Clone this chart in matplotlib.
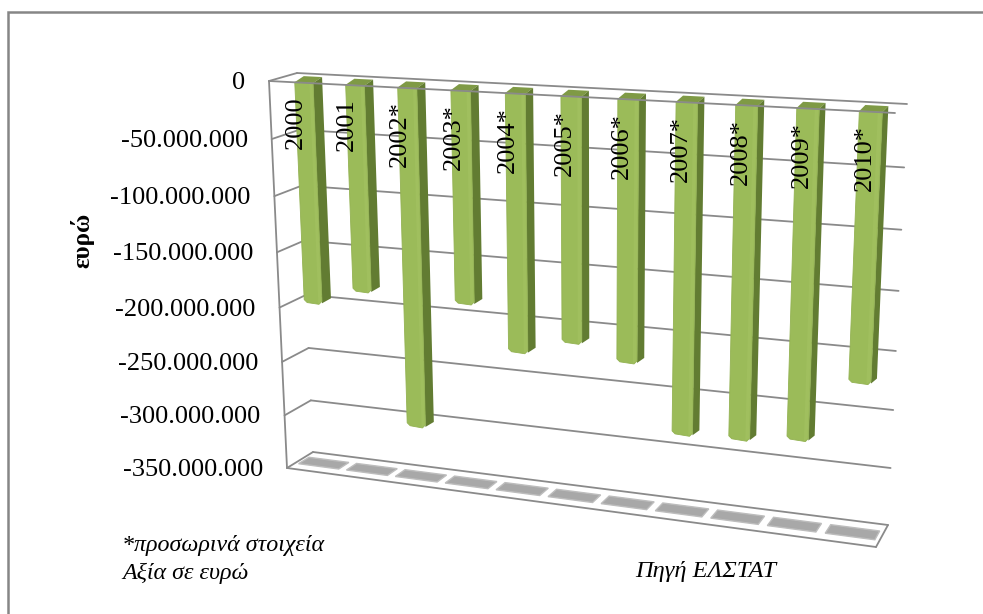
import numpy as np
import matplotlib
matplotlib.use("Agg")
import matplotlib.pyplot as plt
from matplotlib.patches import Polygon

# Trade balance by year, euro
years = ["2000", "2001", "2002*", "2003*", "2004*", "2005*", "2006*", "2007*", "2008*", "2009*", "2010*"]
balance = [-193.5e6, -179e6, -296e6, -181e6, -219e6, -206e6, -218e6, -275e6, -273.5e6, -268e6, -215e6]
ticks = [0, -50e6, -100e6, -150e6, -200e6, -250e6, -300e6, -350e6]
tick_labels = ["0", "-50.000.000", "-100.000.000", "-150.000.000", "-200.000.000",
               "-250.000.000", "-300.000.000", "-350.000.000"]

W, H = 983, 614
SERIF = "Liberation Serif"
GRID = "#8a8a8a"
VMIN = -350e6
# Corner pixels of the chart box: (left-top, right-top, left-bottom, right-bottom)
FRONT = [(269, 81), (895, 113), (287, 468), (876, 547)]
BACK = [(297, 73), (907, 104), (313, 452), (888, 525)]


def homography(corners):
    src = [(0, 0), (1, 0), (0, 1), (1, 1)]
    rows, rhs = [], []
    for (u, v), (x, y) in zip(src, corners):
        rows.append([u, v, 1, 0, 0, 0, -u * x, -v * x]); rhs.append(x)
        rows.append([0, 0, 0, u, v, 1, -u * y, -v * y]); rhs.append(y)
    return np.append(np.linalg.solve(np.array(rows, float), np.array(rhs, float)), 1).reshape(3, 3)


H_FRONT, H_BACK = homography(FRONT), homography(BACK)


def project(cat, value, depth=0.0):
    """Map a category position (0..n), a value and a box depth (0 front, 1 back) to pixels."""
    u = np.asarray(cat, float) / len(years)
    v = np.asarray(value, float) / VMIN
    p = np.stack([u, v, np.ones_like(u * v)])
    pts = []
    for M in (H_FRONT, H_BACK):
        q = np.tensordot(M, p, axes=1)
        pts.append(q[:2] / q[2])
    return (1 - depth) * pts[0] + depth * pts[1]


fig = plt.figure(figsize=(W / 100, H / 100), dpi=100)
ax = fig.add_axes([0, 0, 1, 1])
ax.set_xlim(0, W)
ax.set_ylim(H, 0)
ax.axis("off")

# Chart frame: only its top and left edges fall inside the canvas
ax.plot([8, 8, W], [H, 12, 12], color="#868686", lw=1.8, solid_joinstyle="miter", zorder=1)

n = len(years)


def line(p, q, z=2):
    ax.plot([p[0], q[0]], [p[1], q[1]], color=GRID, lw=1.3, solid_capstyle="round", zorder=z)


def bar_left(i):
    return i + 0.50 - 0.006 * i


# Back wall gridlines and the matching segments on the side wall
for tick in ticks:
    line(project(0, tick, 1), project(n, tick, 1))
    line(project(0, tick, 0), project(0, tick, 1))
line(project(0, 0, 0), project(0, VMIN, 0))

# Floor outline
for a, b in [((0, 0), (n, 0)), ((n, 0), (n, 1))]:
    line(project(a[0], VMIN, a[1]), project(b[0], VMIN, b[1]))

# Bar shadows lying on the floor
for i in range(n):
    c0, c1 = i + 0.08, i + 0.92
    quad = [project(c0, VMIN, 0.3), project(c1, VMIN, 0.3), project(c1, VMIN, 0.7), project(c0, VMIN, 0.7)]
    ax.add_patch(Polygon(quad, closed=True, fc="#a8a8a8", ec="#bdbdbd", lw=1, zorder=2))

# Bars
for i, val in enumerate(balance):
    c0 = bar_left(i)
    c1 = c0 + 0.36
    tl, tr = project(c0, 0, 0.02), project(c1, 0, 0.02)
    bl, br = project(c0, val, 0.02), project(c1, val, 0.02)
    off = np.array([9 - 3 * i / (n - 1), -6.0])
    r = 3.0
    ax.add_patch(Polygon([tl, tl + off, tr + off, tr], closed=True, fc="#7f9a45", ec="none", zorder=3))
    side = [tr, tr + off, br + off, br + (0, -1)]
    ax.add_patch(Polygon(side, closed=True, fc="#627c32", ec="none", zorder=3))
    face = [tl, tr, br + (0, -r), br + (-r, 0), bl + (r, 0), bl + (0, -r)]
    ax.add_patch(Polygon(face, closed=True, fc="#9bbb59", ec="#93b252", lw=0.6, zorder=4))
    # Lighter strip along the right edge of the front face
    w = tr - tl
    strip = [tr - 0.2 * w, tr - 0.03 * w, br - 0.03 * w + (0, -r), br - 0.2 * w]
    ax.add_patch(Polygon(strip, closed=True, fc="#a0bf5e", ec="none", zorder=4))

# Front top edge passes over the bars
line(project(0, 0, 0), project(n, 0, 0), z=5)

# Value axis labels
for tick, label in zip(ticks, tick_labels):
    x, y = project(0, tick, 0)
    ax.text(x - 24, y + 2, label, ha="right", va="center", family=SERIF, fontsize=19, color="black", zorder=6)

# Year labels, running upward across the bars
for i, label in enumerate(years):
    x, y = project(bar_left(i), 0, 0.02)
    ax.text(x + 1 + 0.5 * i, y + 14, label, rotation=90, ha="center", va="top", family=SERIF,
            fontsize=19, color="black", zorder=6)

ax.text(82, 240, "ευρώ", rotation=90, ha="center", va="center", family=SERIF, fontweight="bold",
        fontsize=18, color="black", zorder=6)
ax.text(122, 545, "*προσωρινά στοιχεία", ha="left", va="center", family=SERIF, style="italic",
        fontsize=17.3, color="black", zorder=6)
ax.text(122, 573, "Αξία σε ευρώ", ha="left", va="center", family=SERIF, style="italic",
        fontsize=17.3, color="black", zorder=6)
ax.text(635, 571, "Πηγή ΕΛΣΤΑΤ", ha="left", va="center", family=SERIF, style="italic",
        fontsize=17.6, color="black", zorder=6)

fig.savefig("out.png", dpi=100, facecolor="white")
